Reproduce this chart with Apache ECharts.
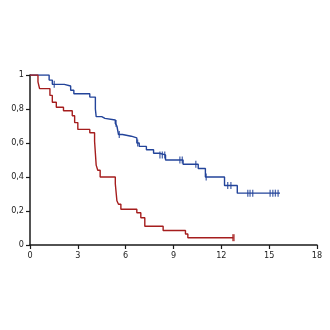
<!DOCTYPE html>
<html>
<head>
<meta charset="utf-8">
<script src="https://cdn.jsdelivr.net/npm/echarts@6/dist/echarts.min.js"></script>
<style>
  html, body { margin: 0; padding: 0; background: #fff; }
  #chart { width: 330px; height: 330px; }
</style>
</head>
<body>
<div id="chart"></div>
<script>
// Kaplan-Meier style survival estimates: [time, survival after the event]
const blueTimes = [0, 1.2, 1.4, 2.15, 2.55, 2.75, 3.75, 4.1, 4.15, 4.5, 4.7, 5.35, 5.45, 5.55, 5.8, 6.35, 6.7, 6.85, 7.3, 7.75, 8.1, 8.5, 9.6, 10.55, 11.0, 12.2, 13.0];
const blueSurv  = [1, 0.97, 0.945, 0.935, 0.91, 0.89, 0.87, 0.80, 0.755, 0.745, 0.735, 0.715, 0.70, 0.65, 0.64, 0.63, 0.60, 0.58, 0.56, 0.54, 0.53, 0.50, 0.475, 0.45, 0.40, 0.35, 0.305];
const blueEnd = 15.68;
const blueCensored = [1.52, 5.4, 5.6, 6.75, 8.15, 8.3, 8.45, 9.4, 9.55, 10.4, 11.05, 12.4, 12.6, 13.66, 13.8, 13.97, 15.06, 15.23, 15.39, 15.56];

const redTimes = [0, 0.5, 0.6, 1.25, 1.4, 1.65, 2.1, 2.65, 2.8, 3.0, 3.75, 4.05, 4.15, 4.25, 4.4, 5.35, 5.45, 5.55, 5.7, 6.7, 6.95, 7.2, 8.35, 9.75, 9.9];
const redSurv  = [1, 0.96, 0.92, 0.88, 0.84, 0.81, 0.79, 0.76, 0.72, 0.68, 0.66, 0.61, 0.47, 0.44, 0.40, 0.36, 0.26, 0.24, 0.21, 0.19, 0.16, 0.11, 0.085, 0.065, 0.043];
const redEnd = 12.76;
const redCensored = [12.76];

const xTicks = [0, 3, 6, 9, 12, 15, 18];
const yTicks = [0, 0.2, 0.4, 0.6, 0.8, 1];

const BLUE = '#23449a';
const RED = '#a51d1d';

function curve(times, surv, end) {
  const pts = times.map((t, i) => [t, surv[i]]);
  pts.push([end, surv[surv.length - 1]]);
  return pts;
}
function survAt(times, surv, t) {
  let s = surv[0];
  for (let i = 0; i < times.length; i++) if (times[i] <= t) s = surv[i];
  return s;
}
function marks(times, surv, cens) {
  return cens.map(t => [t, survAt(times, surv, t)]);
}

const axisText = { color: '#222', fontSize: 9, fontFamily: "'Liberation Sans Narrow', 'DejaVu Sans Condensed', sans-serif" };

const chart = echarts.init(document.getElementById('chart'), null, { renderer: 'canvas' });
chart.setOption({
  animation: false,
  backgroundColor: '#fff',
  grid: { left: 30, right: 13, top: 75, bottom: 85 },
  xAxis: {
    type: 'value', min: xTicks[0], max: xTicks[xTicks.length - 1], interval: 3,
    axisLine: { show: true, onZero: false, lineStyle: { color: '#1a1a1a', width: 1.5 } },
    axisTick: { show: true, length: 4, lineStyle: { color: '#1a1a1a', width: 1.2 } },
    axisLabel: Object.assign({ margin: 6 }, axisText),
    splitLine: { show: false }
  },
  yAxis: {
    type: 'value', min: yTicks[0], max: yTicks[yTicks.length - 1], interval: 0.2,
    axisLine: { show: true, onZero: false, lineStyle: { color: '#1a1a1a', width: 1.5 } },
    axisTick: { show: true, length: 4, lineStyle: { color: '#1a1a1a', width: 1.2 } },
    axisLabel: Object.assign({ margin: 6, formatter: v => String(Math.round(v * 10) / 10).replace('.', ',') }, axisText),
    splitLine: { show: false }
  },
  series: [
    { type: 'line', step: 'end', data: curve(blueTimes, blueSurv, blueEnd), showSymbol: false,
      lineStyle: { color: BLUE, width: 1.4 }, z: 3 },
    { type: 'line', step: 'end', data: curve(redTimes, redSurv, redEnd), showSymbol: false,
      lineStyle: { color: RED, width: 1.4 }, z: 3 },
    { type: 'scatter', data: marks(blueTimes, blueSurv, blueCensored), symbol: 'rect', symbolSize: [1.3, 7],
      itemStyle: { color: BLUE }, z: 4 },
    { type: 'scatter', data: marks(redTimes, redSurv, redCensored), symbol: 'rect', symbolSize: [2.5, 7],
      itemStyle: { color: RED }, z: 4 }
  ]
});
</script>
</body>
</html>
